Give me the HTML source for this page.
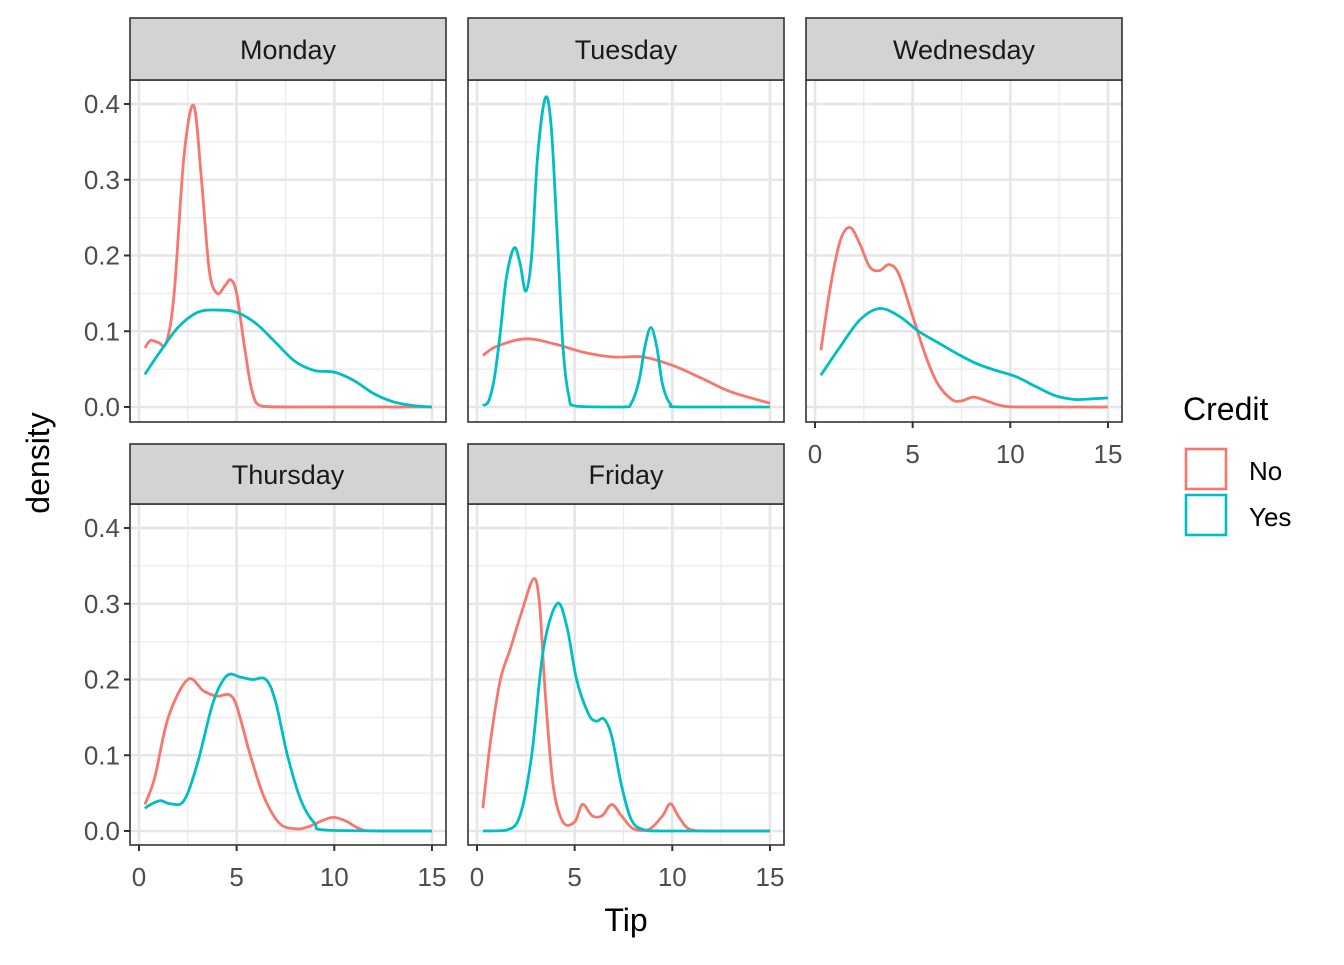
<!DOCTYPE html>
<html><head><meta charset="utf-8"><style>
html,body{margin:0;padding:0;background:#fff}
svg text{font-family:"Liberation Sans",Arial,sans-serif}
</style></head><body>
<svg id="s" width="1344" height="960" viewBox="0 0 1344 960" xmlns="http://www.w3.org/2000/svg"></svg>
<script>
const R="#F8766D",T="#00BFC4";
const panels=[
 {name:"Monday",x0:130,x1:446,sy:18,py0:80,py1:422,xt:false,yt:true,
  s:[[R,[[0.3,0.078],[0.6,0.088],[1,0.085],[1.4,0.085],[1.8,0.15],[2.3,0.33],[2.8,0.398],[3.2,0.3],[3.6,0.18],[4,0.15],[4.4,0.16],[4.7,0.168],[5,0.15],[5.4,0.08],[5.8,0.02],[6.3,0.001],[8,0],[15,0]]],
     [T,[[0.3,0.043],[1,0.07],[2,0.105],[3,0.125],[4,0.128],[5,0.125],[6,0.11],[7,0.085],[8,0.06],[9,0.048],[10,0.046],[11,0.035],[12,0.018],[13,0.007],[14,0.002],[15,0]]]]},
 {name:"Tuesday",x0:468,x1:784,sy:18,py0:80,py1:422,xt:false,yt:false,
  s:[[R,[[0.3,0.068],[1,0.08],[2.5,0.09],[4,0.083],[5.5,0.072],[7,0.066],[8.5,0.066],[10,0.055],[11.5,0.038],[13,0.02],[15,0.005]]],
     [T,[[0.3,0.002],[0.6,0.008],[0.9,0.04],[1.2,0.1],[1.5,0.17],[1.9,0.21],[2.2,0.19],[2.5,0.153],[2.8,0.2],[3.1,0.33],[3.5,0.408],[3.8,0.37],[4.1,0.23],[4.4,0.08],[4.7,0.015],[5.1,0.001],[7.5,0],[7.9,0.005],[8.3,0.035],[8.6,0.08],[8.9,0.105],[9.2,0.08],[9.5,0.03],[9.9,0.004],[10.4,0],[15,0]]]]},
 {name:"Wednesday",x0:806,x1:1122,sy:18,py0:80,py1:422,xt:true,yt:false,
  s:[[R,[[0.3,0.075],[0.8,0.16],[1.3,0.22],[1.8,0.237],[2.3,0.215],[2.8,0.185],[3.3,0.18],[3.8,0.188],[4.3,0.175],[5,0.12],[5.7,0.065],[6.3,0.03],[7,0.01],[7.5,0.008],[8.1,0.013],[8.8,0.008],[9.5,0.002],[10.5,0],[15,0]]],
     [T,[[0.3,0.042],[1.3,0.08],[2.3,0.115],[3.3,0.13],[4.3,0.12],[5.3,0.1],[6.3,0.085],[7.3,0.07],[8.3,0.057],[9.3,0.048],[10.3,0.04],[11.3,0.027],[12.3,0.015],[13.3,0.01],[14.3,0.011],[15,0.012]]]]},
 {name:"Thursday",x0:130,x1:446,sy:444,py0:504,py1:845,xt:true,yt:true,
  s:[[R,[[0.3,0.035],[0.8,0.07],[1.5,0.15],[2.5,0.2],[3.3,0.185],[4,0.178],[4.6,0.18],[5,0.165],[5.7,0.1],[6.4,0.045],[7.2,0.01],[8,0.003],[8.6,0.005],[9.5,0.015],[10,0.018],[10.6,0.013],[11.3,0.003],[12,0],[15,0]]],
     [T,[[0.3,0.03],[0.6,0.035],[1.1,0.04],[1.6,0.036],[2.3,0.04],[3,0.09],[3.8,0.17],[4.5,0.205],[5.2,0.203],[5.8,0.2],[6.5,0.2],[7,0.17],[7.6,0.1],[8.3,0.04],[9,0.01],[9.7,0.001],[15,0]]]]},
 {name:"Friday",x0:468,x1:784,sy:444,py0:504,py1:845,xt:true,yt:false,
  s:[[R,[[0.3,0.03],[0.7,0.12],[1.2,0.2],[1.7,0.24],[2.3,0.29],[2.9,0.333],[3.2,0.3],[3.5,0.18],[3.9,0.06],[4.4,0.012],[5,0.012],[5.4,0.035],[5.9,0.02],[6.4,0.02],[6.9,0.035],[7.4,0.02],[8,0.003],[8.8,0.002],[9.5,0.02],[9.9,0.036],[10.3,0.02],[10.9,0.002],[12,0],[15,0]]],
     [T,[[0.3,0],[1.5,0.001],[2.2,0.02],[2.8,0.1],[3.4,0.24],[4.1,0.3],[4.6,0.27],[5.1,0.2],[5.7,0.155],[6.1,0.145],[6.5,0.148],[6.9,0.125],[7.4,0.06],[7.9,0.015],[8.5,0.002],[9.5,0],[15,0]]]]}
];
let h="";
for(const p of panels){
 const X=v=>p.x0+9+v*19.53, y0=p.py0+327, Y=v=>y0-v*757.5;
 h+=`<rect x="${p.x0}" y="${p.py0}" width="${p.x1-p.x0}" height="${p.py1-p.py0}" fill="#fff"/>`;
 for(let v=0.05;v<0.45;v+=0.1)h+=`<line x1="${p.x0}" x2="${p.x1}" y1="${Y(v)}" y2="${Y(v)}" stroke="#ebebeb" stroke-width="1.3"/>`;
 for(const v of [2.5,7.5,12.5])h+=`<line x1="${X(v)}" x2="${X(v)}" y1="${p.py0}" y2="${p.py1}" stroke="#ebebeb" stroke-width="1.3"/>`;
 for(let i=0;i<5;i++)h+=`<line x1="${p.x0}" x2="${p.x1}" y1="${Y(i/10)}" y2="${Y(i/10)}" stroke="#e6e6e6" stroke-width="2.6"/>`;
 for(const v of [0,5,10,15])h+=`<line x1="${X(v)}" x2="${X(v)}" y1="${p.py0}" y2="${p.py1}" stroke="#e6e6e6" stroke-width="2.6"/>`;
 for(const [c,pts] of p.s){
  const q=pts.map(([a,b])=>[X(a),Y(b)]);
  let d=`M${q[0][0]},${q[0][1]}`;
  for(let i=0;i<q.length-1;i++){
   const p0=q[Math.max(0,i-1)],p1=q[i],p2=q[i+1],p3=q[Math.min(q.length-1,i+2)];
   let c1y=p1[1]+(p2[1]-p0[1])/6,c2y=p2[1]-(p3[1]-p1[1])/6;
   c1y=Math.min(c1y,y0);c2y=Math.min(c2y,y0);
   d+=`C${p1[0]+(p2[0]-p0[0])/6},${c1y} ${p2[0]-(p3[0]-p1[0])/6},${c2y} ${p2[0]},${p2[1]}`;
  }
  h+=`<path d="${d}" fill="none" stroke="${c}" stroke-width="2.8"/>`;
 }
 h+=`<rect x="${p.x0}" y="${p.py0}" width="${p.x1-p.x0}" height="${p.py1-p.py0}" fill="none" stroke="#333" stroke-width="1.6"/>`;
 h+=`<rect x="${p.x0}" y="${p.sy}" width="${p.x1-p.x0}" height="${p.py0-p.sy}" fill="#d3d3d3" stroke="#333" stroke-width="1.6"/>`;
 h+=`<text x="${(p.x0+p.x1)/2}" y="${(p.sy+p.py0)/2+10}" font-size="27" fill="#1a1a1a" text-anchor="middle">${p.name}</text>`;
 if(p.yt)for(let i=0;i<5;i++){h+=`<line x1="${p.x0-6}" x2="${p.x0}" y1="${Y(i/10)}" y2="${Y(i/10)}" stroke="#333" stroke-width="2"/><text x="${p.x0-10}" y="${Y(i/10)+9}" font-size="26" fill="#4d4d4d" text-anchor="end">${(i/10).toFixed(1)}</text>`;}
 if(p.xt)for(const v of [0,5,10,15]){h+=`<line x1="${X(v)}" x2="${X(v)}" y1="${p.py1}" y2="${p.py1+6}" stroke="#333" stroke-width="2"/><text x="${X(v)}" y="${p.py1+41}" font-size="26" fill="#4d4d4d" text-anchor="middle">${v}</text>`;}
}
h+=`<text x="626" y="931" font-size="32" fill="#000" text-anchor="middle">Tip</text>`;
h+=`<text transform="translate(49,463) rotate(-90)" font-size="32" fill="#000" text-anchor="middle">density</text>`;
h+=`<text x="1183" y="420" font-size="32" fill="#000">Credit</text>`;
h+=`<rect x="1186" y="449" width="40" height="40" fill="#fff" stroke="${R}" stroke-width="2.6"/><text x="1249" y="480" font-size="26" fill="#000">No</text>`;
h+=`<rect x="1186" y="495" width="40" height="40" fill="#fff" stroke="${T}" stroke-width="2.6"/><text x="1249" y="526" font-size="26" fill="#000">Yes</text>`;
document.getElementById("s").innerHTML=h;
</script>
</body></html>
